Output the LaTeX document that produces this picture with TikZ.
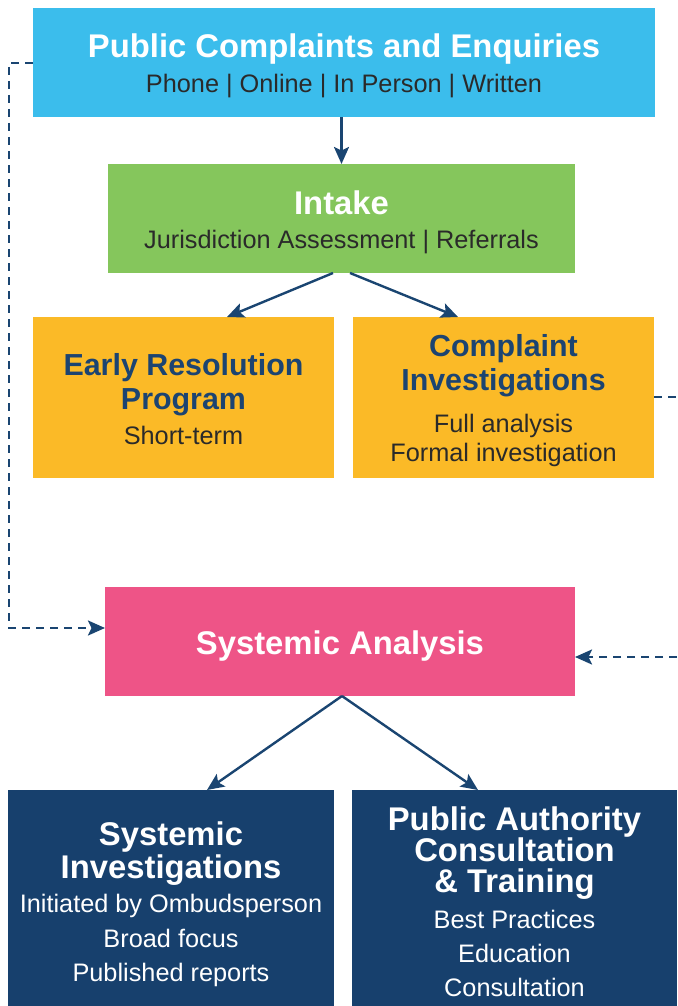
\documentclass[tikz,border=0pt]{standalone}
\usepackage{fontspec}
\setmainfont{Liberation Sans}
\usetikzlibrary{arrows.meta,calc}

\definecolor{skyblue}{HTML}{3BBDEC}
\definecolor{leafgreen}{HTML}{85C65C}
\definecolor{sunyellow}{HTML}{FBBA27}
\definecolor{rosepink}{HTML}{EE5487}
\definecolor{deepnavy}{HTML}{17406D}
\definecolor{linknavy}{HTML}{1A4571}
\definecolor{titlenavy}{HTML}{1C4471}
\definecolor{darktext}{HTML}{2A2A2A}

\tikzset{
  box/.style={draw=none, inner sep=0pt, outer sep=0pt, rectangle},
  ttl/.style={anchor=base, inner sep=0pt, font=\fontsize{32.8}{34}\selectfont\bfseries},
  ttlsmall/.style={anchor=base, inner sep=0pt, font=\fontsize{30.4}{34}\selectfont\bfseries},
  sub/.style={anchor=base, inner sep=0pt, font=\fontsize{25.3}{30}\selectfont},
  flow/.style={draw=linknavy, line width=2.4pt, -{Stealth[length=17pt,width=15pt,inset=3.5pt]}},
  feedback/.style={draw=linknavy, line width=2.4pt, dash pattern=on 8pt off 6pt},
  feedbackarrow/.style={feedback, -{Stealth[length=17pt,width=15pt,inset=3.5pt]}},
}

\begin{document}
\begin{tikzpicture}[x=1pt,y=-1pt]
\useasboundingbox (0,0) rectangle (677,1006);

% boxes
\node[box, fill=skyblue, minimum width=622pt, minimum height=109pt] (top) at (344,62.5) {};
\node[box, fill=leafgreen, minimum width=467pt, minimum height=109pt] (intake) at (341.5,218.5) {};
\node[box, fill=sunyellow, minimum width=301pt, minimum height=161pt] (early) at (183.5,397.5) {};
\node[box, fill=sunyellow, minimum width=301pt, minimum height=161pt] (complaint) at (503.5,397.5) {};
\node[box, fill=rosepink, minimum width=470pt, minimum height=109pt] (analysis) at (340,641.5) {};
\node[box, fill=deepnavy, minimum width=326pt, minimum height=216pt] (sysinv) at (171,898) {};
\node[box, fill=deepnavy, minimum width=325pt, minimum height=216pt] (authority) at (514.5,898) {};

% texts
\node[ttl, text=white] (topT) at (344,57.3) {Public Complaints and Enquiries};
\node[sub, text=darktext] (topS) at (344,92.7) {Phone | Online | In Person | Written};

\node[ttl, text=white] (intakeT) at (341.5,214.3) {Intake};
\node[sub, text=darktext] (intakeS) at (341.5,248.3) {Jurisdiction Assessment | Referrals};

\node[ttlsmall, text=titlenavy] (earlyT1) at (183.5,375) {Early Resolution};
\node[ttlsmall, text=titlenavy] (earlyT2) at (183.5,409) {Program};
\node[sub, text=darktext] (earlyS) at (183.5,444) {Short-term};

\node[ttlsmall, text=titlenavy] (complaintT1) at (503.5,356.7) {Complaint};
\node[ttlsmall, text=titlenavy] (complaintT2) at (503.5,390.7) {Investigations};
\node[sub, text=darktext] (complaintS1) at (503.5,432.3) {Full analysis};
\node[sub, text=darktext] (complaintS2) at (503.5,461.7) {Formal investigation};

\node[ttl, text=white] (analysisT) at (340,654.5) {Systemic Analysis};

\node[ttl, text=white] (sysinvT1) at (171,845.7) {Systemic};
\node[ttl, text=white] (sysinvT2) at (171,878.3) {Investigations};
\node[sub, text=white] (sysinvS1) at (171,912.7) {Initiated by Ombudsperson};
\node[sub, text=white] (sysinvS2) at (171,947.7) {Broad focus};
\node[sub, text=white] (sysinvS3) at (171,981.7) {Published reports};

\node[ttl, text=white] (authT1) at (514.5,830) {Public Authority};
\node[ttl, text=white] (authT2) at (514.5,861.7) {Consultation};
\node[ttl, text=white] (authT3) at (514.5,892.3) {\& Training};
\node[sub, text=white] (authS1) at (514.5,928.3) {Best Practices};
\node[sub, text=white] (authS2) at (514.5,962.7) {Education};
\node[sub, text=white] (authS3) at (514.5,996.7) {Consultation};

% main flow
\draw[flow] (intake.north |- top.south) -- (intake.north);
\draw[flow] ([xshift=-8.5pt]intake.south) -- ([xshift=43.5pt]early.north);
\draw[flow] ([xshift=8.5pt]intake.south) -- ([xshift=-45.5pt]complaint.north);
\draw[flow] ([xshift=2pt]analysis.south) -- ([xshift=36pt]sysinv.north);
\draw[flow] ([xshift=2pt]analysis.south) -- ([xshift=-36.5pt]authority.north);

% feedback paths into systemic analysis (canvas yshift points upward)
\coordinate (leftA) at (9,63);
\coordinate (leftB) at (9,628);
\draw[feedbackarrow] ([yshift=-0.5pt]top.west) -- (leftA) -- (leftB) -- ([yshift=13.5pt]analysis.west);

\coordinate (rightOut) at (677,397);
\draw[feedback] ([yshift=0.5pt]complaint.east) -- (rightOut);

\coordinate (rightIn) at (677,657);
\draw[feedbackarrow] (rightIn) -- ([yshift=-15.5pt]analysis.east);

\end{tikzpicture}
\end{document}
